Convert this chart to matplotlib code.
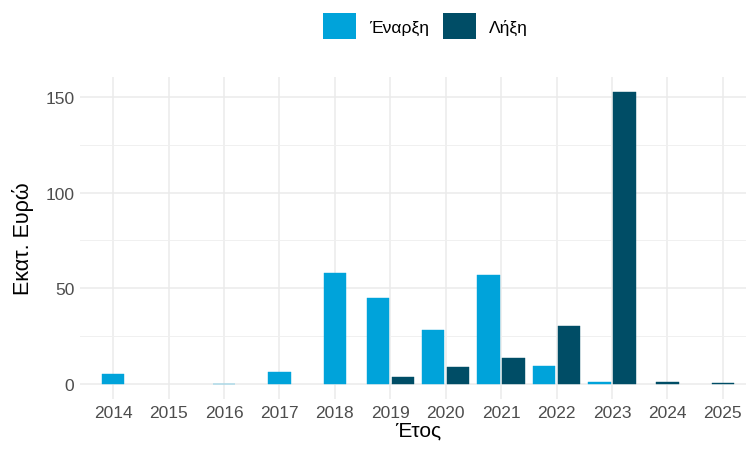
import numpy as np
import matplotlib.pyplot as plt
from matplotlib.patches import Patch
from matplotlib.ticker import MultipleLocator

plt.rcParams['font.family'] = ['Liberation Sans', 'DejaVu Sans']

years = [2014, 2015, 2016, 2017, 2018, 2019, 2020, 2021, 2022, 2023, 2024, 2025]
start = [5.5, np.nan, 0.4, 6.2, 58, 44.8, 28.5, 56.8, 9.7, 1.2, np.nan, np.nan]
end = [np.nan, np.nan, np.nan, np.nan, np.nan, 4.0, 8.8, 13.6, 30.2, 152.6, 1.2, 0.5]
series_names = ['Έναρξη', 'Λήξη']
colors = ['#00a3da', '#004d66']

W, H = 746, 452
fig = plt.figure(figsize=(W / 100, H / 100), dpi=100)
# panel runs a bit past the right edge, like the reference crop
ax = fig.add_axes([80 / W, 1 - 400 / H, 676 / W, 322 / H])

width = 0.405
off = 0.225
for i, yr in enumerate(years):
    s, e = start[i], end[i]
    both = not np.isnan(s) and not np.isnan(e)
    if not np.isnan(s):
        ax.bar(yr - off if both else yr, s, width=width, color=colors[0],
               edgecolor=colors[0], linewidth=0.3, zorder=3)
    if not np.isnan(e):
        ax.bar(yr + off if both else yr, e, width=width, color=colors[1],
               edgecolor=colors[1], linewidth=0.3, zorder=3)

ax.set_xlim(years[0] - 0.6, years[-1] + 0.6)
ax.set_ylim(-7.63, 160.2)
ax.set_xticks(years)
ax.set_xticklabels([str(y) for y in years])
ax.yaxis.set_major_locator(MultipleLocator(50))
ax.yaxis.set_minor_locator(MultipleLocator(25))

ax.grid(True, which='major', color='#ebebeb', linewidth=1.1, zorder=0)
ax.grid(True, which='minor', axis='y', color='#f0f0f0', linewidth=0.7, zorder=0)
ax.set_axisbelow(True)
for sp in ax.spines.values():
    sp.set_visible(False)
ax.tick_params(which='both', length=0, labelsize=12.5, labelcolor='#4d4d4d', pad=4)

ax.set_xlabel('Έτος', fontsize=15, color='black', labelpad=1)
ax.set_ylabel('Εκατ. Ευρώ', fontsize=15.5, color='black', labelpad=8)

handles = [Patch(facecolor=c, edgecolor='none') for c in colors]
fig.legend(handles, series_names, loc='center', bbox_to_anchor=(425 / W, 1 - 27 / H),
           ncol=2, frameon=False, fontsize=12.5, handlelength=1.95, handleheight=1.95,
           handletextpad=0.7, columnspacing=0.8)

fig.savefig('out.png', dpi=100)
